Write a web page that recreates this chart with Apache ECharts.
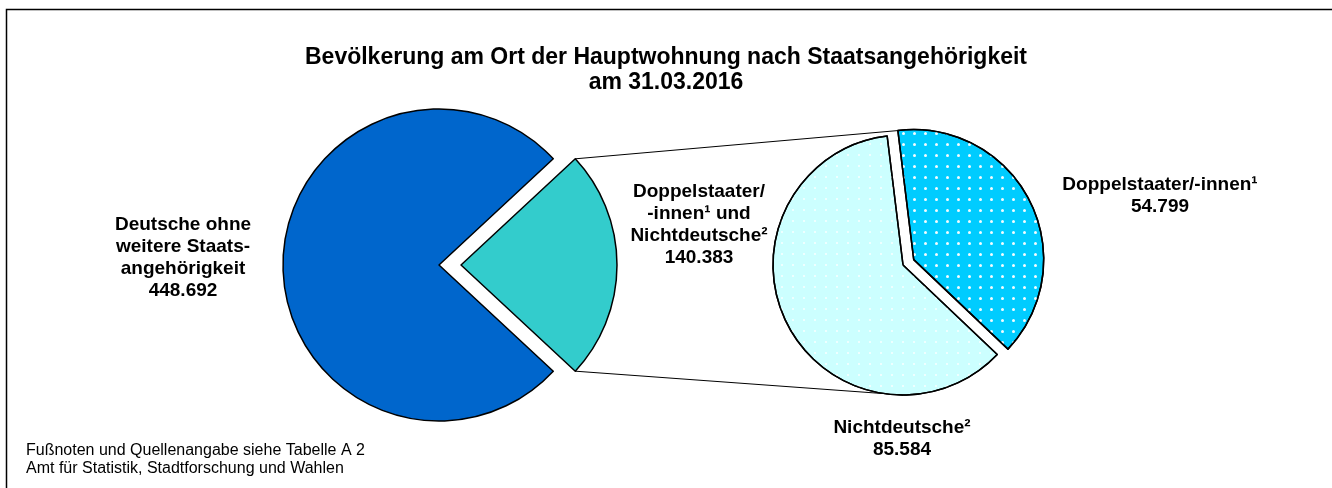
<!DOCTYPE html>
<html>
<head>
<meta charset="utf-8">
<script src="https://cdn.jsdelivr.net/npm/echarts@6/dist/echarts.min.js"></script>
<style>
  html, body { margin: 0; padding: 0; background: #fff; }
  #chart { width: 1332px; height: 488px; }
</style>
</head>
<body>
<div id="chart"></div>
<script>
// Hauptkreis: Deutsche vs. Doppelstaater + Nichtdeutsche
const mainNames = ['Doppelstaater/\n-innen¹ und\nNichtdeutsche²', 'Deutsche ohne\nweitere Staats-\nangehörigkeit']
const mainValues = [140383, 448692]
const mainColors = ['#33CCCC', '#0066CC']

// Nebenkreis: Aufteilung der 140.383
const subNames = ['Doppelstaater/-innen¹', 'Nichtdeutsche²']
const subValues = [54799, 85584]
const subColors = ['#00CCFF', '#CCFFFF']

const FONT = '"Liberation Sans", Arial, sans-serif'

// Geometrie der beiden Kreise
const c1 = [439, 265], r1 = 156, off1 = 22
const c2 = [903, 265], r2 = 130, off2 = 12
const subStart = 97

// Label-Mittelpunkte
const mainLabelPos = [[699, 225], [183, 258]]
const subLabelPos = [[1160, 196], [902, 439]]

function fmt(v) {
  return String(v).replace(/\B(?=(\d{3})+(?!\d))/g, '.')
}

let chart = echarts.init(document.getElementById('chart'))

let rad = d => d * Math.PI / 180
let mainTotal = mainValues.reduce((a, b) => a + b, 0)
let subTotal = subValues.reduce((a, b) => a + b, 0)
let halfAngle = 360 * mainValues[0] / mainTotal / 2
let blueMid = subStart - 360 * subValues[0] / subTotal / 2

// herausgezogene Segmente: Mittelpunkt entlang der Segmentmitte verschieben
let teal = [c1[0] + off1, c1[1]]
let blueC = [c2[0] + off2 * Math.cos(rad(blueMid)), c2[1] - off2 * Math.sin(rad(blueMid))]

// Verbindungslinien
let tealTop = [teal[0] + r1 * Math.cos(rad(halfAngle)), teal[1] - r1 * Math.sin(rad(halfAngle))]
let tealBot = [teal[0] + r1 * Math.cos(rad(halfAngle)), teal[1] + r1 * Math.sin(rad(halfAngle))]
let subTop = [blueC[0] + r2 * Math.cos(rad(subStart)), blueC[1] - r2 * Math.sin(rad(subStart))]
let subBot = [c2[0], c2[1] + r2]

function dotDecal(alpha, size) {
  return {
    symbol: 'circle',
    symbolSize: 1,
    color: 'rgba(255,255,255,' + alpha + ')',
    dashArrayX: [size, 11 - size],
    dashArrayY: [size, 11 - size],
    rotation: 0
  }
}

// eine Kreisebene, in der nur das Segment "show" sichtbar ist
function pieLayer(center, radius, startAngle, names, values, colors, show, labelPos, decals) {
  return {
    type: 'pie',
    center: center,
    radius: radius,
    startAngle: startAngle,
    clockwise: true,
    silent: true,
    emphasis: { disabled: true },
    labelLine: { show: false },
    labelLayout: p => ({ x: labelPos[p.dataIndex][0], y: labelPos[p.dataIndex][1], align: 'center', verticalAlign: 'middle' }),
    data: values.map((v, i) => ({
      name: names[i],
      value: v,
      label: {
        show: i === show,
        position: 'inside',
        color: '#000',
        fontFamily: FONT,
        fontWeight: 'bold',
        fontSize: 19,
        lineHeight: 22,
        align: 'center',
        formatter: p => p.name + '\n' + fmt(p.value)
      },
      itemStyle: i === show
        ? { color: colors[i], borderColor: '#000', borderWidth: 1.5, decal: decals ? decals[i] : null }
        : { color: 'rgba(0,0,0,0)', borderWidth: 0, decal: { symbol: 'none' } }
    }))
  }
}

let subDecals = [dotDecal(0.95, 3), dotDecal(0.9, 2)]

let option = {
  animation: false,
  backgroundColor: '#fff',
  title: [{
    text: 'Bevölkerung am Ort der Hauptwohnung nach Staatsangehörigkeit\nam 31.03.2016',
    left: 'center',
    top: 40,
    textStyle: { fontFamily: FONT, fontWeight: 'bold', fontSize: 23, lineHeight: 25, color: '#000' }
  }, {
    text: 'Fußnoten und Quellenangabe siehe Tabelle A 2\nAmt für Statistik, Stadtforschung und Wahlen',
    left: 21,
    top: 437,
    textStyle: { fontFamily: FONT, fontWeight: 'normal', fontSize: 16, lineHeight: 18, color: '#000' }
  }],
  graphic: [
    { type: 'rect', silent: true, shape: { x: 6.5, y: 9.5, width: 1400, height: 600 },
      style: { fill: 'none', stroke: '#000', lineWidth: 1.5 } },
    { type: 'line', silent: true, shape: { x1: tealTop[0], y1: tealTop[1], x2: subTop[0], y2: subTop[1] },
      style: { stroke: '#000', lineWidth: 1 } },
    { type: 'line', silent: true, shape: { x1: tealBot[0], y1: tealBot[1], x2: subBot[0], y2: subBot[1] },
      style: { stroke: '#000', lineWidth: 1 } }
  ],
  series: [
    pieLayer(c1, r1, halfAngle, mainNames, mainValues, mainColors, 1, mainLabelPos),
    pieLayer(teal, r1, halfAngle, mainNames, mainValues, mainColors, 0, mainLabelPos),
    pieLayer(c2, r2, subStart, subNames, subValues, subColors, 1, subLabelPos, subDecals),
    pieLayer(blueC, r2, subStart, subNames, subValues, subColors, 0, subLabelPos, subDecals)
  ]
}

chart.setOption(option)
</script>
</body>
</html>
